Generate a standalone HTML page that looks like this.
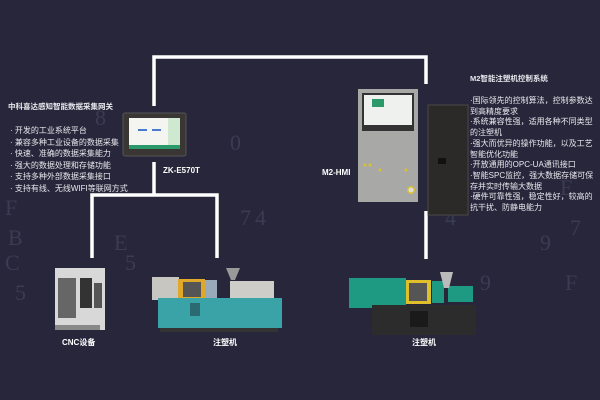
<!DOCTYPE html>
<html><head><meta charset="utf-8"><style>
body{margin:0;width:600px;height:400px;overflow:hidden;background:#28263a;font-family:"Liberation Sans","Noto Sans CJK SC",sans-serif;}
svg{position:absolute;left:0;top:0}
.t{position:absolute;color:#e8e8ee;font-size:8px;line-height:11.5px;white-space:nowrap}
.h{font-weight:bold;font-size:7.5px}
.l{position:absolute;color:#fff;font-size:8px;font-weight:bold}
</style></head><body>
<svg width="600" height="400">
<g fill="#3a3c52" font-family="Liberation Serif" font-size="22">
<text x="5" y="215">F</text><text x="8" y="245">B</text><text x="5" y="270">C</text><text x="15" y="300">5</text>
<text x="114" y="250">E</text><text x="125" y="270">5</text><text x="255" y="225">4</text><text x="240" y="225">7</text>
<text x="445" y="225">4</text><text x="480" y="290">9</text><text x="565" y="290">F</text><text x="570" y="235">7</text>
<text x="540" y="250">9</text><text x="560" y="195">E</text><text x="95" y="125">8</text><text x="230" y="150">0</text>
</g>
<g fill="none" stroke="#fff" stroke-width="3.5">
<polyline points="154,106 154,57 426,57 426,84"/>
<polyline points="154,162 154,195"/>
<polyline points="92,258 92,195 217,195 217,258"/>
<line x1="426" y1="211" x2="426" y2="259"/>
</g>
<!-- ZK panel -->
<rect x="123" y="113" width="63" height="43" rx="2" fill="#3a3633" stroke="#555" />
<rect x="129" y="118" width="51" height="31" fill="#f4f4f0"/>
<rect x="129" y="145" width="51" height="4" fill="#2a9a6a"/>
<rect x="168" y="118" width="12" height="27" fill="#cfe8d0"/>
<rect x="138" y="129" width="9" height="2" fill="#4a7ad0"/><rect x="152" y="129" width="9" height="2" fill="#4a7ad0"/>
<!-- M2 HMI -->
<rect x="358" y="89" width="60" height="113" fill="#a8a9a6"/>
<rect x="362" y="93" width="52" height="38" fill="#333"/>
<rect x="364" y="95" width="48" height="30" fill="#eef1ee"/>
<rect x="372" y="99" width="12" height="8" fill="#2a9a6a"/>
<g fill="#d8c030"><circle cx="365" cy="165" r="1.5"/><circle cx="370" cy="165" r="1.5"/><circle cx="380" cy="170" r="1.5"/><circle cx="406" cy="170" r="1.5"/><circle cx="411" cy="190" r="4"/></g>
<circle cx="411" cy="190" r="2.5" fill="#ddd"/>
<!-- controller -->
<rect x="428" y="105" width="40" height="110" fill="#2c2a28" stroke="#4a4844"/>
<rect x="438" y="158" width="8" height="6" fill="#111"/>
<!-- CNC -->
<rect x="55" y="268" width="50" height="62" fill="#d8d8d8"/>
<rect x="58" y="278" width="18" height="40" fill="#666"/>
<rect x="80" y="278" width="12" height="30" fill="#333"/>
<rect x="94" y="283" width="8" height="25" fill="#555"/>
<rect x="55" y="325" width="45" height="5" fill="#888"/>
<!-- middle injection -->
<rect x="152" y="277" width="27" height="23" fill="#c8c6c0"/>
<rect x="178" y="279" width="27" height="21" fill="#e0a82a"/>
<rect x="183" y="282" width="18" height="15" fill="#555"/>
<rect x="205" y="280" width="12" height="20" fill="#9ab"/>
<rect x="230" y="281" width="44" height="17" fill="#cfcdc8"/>
<polygon points="226,268 240,268 235,280 231,280" fill="#999"/>
<rect x="158" y="298" width="124" height="30" fill="#3aa3a8"/>
<rect x="190" y="303" width="10" height="13" fill="#2a6a70"/>
<rect x="160" y="328" width="118" height="4" fill="#333"/>
<!-- right injection -->
<rect x="349" y="278" width="57" height="30" fill="#1e9a82"/>
<rect x="406" y="280" width="25" height="24" fill="#e0c02a"/>
<rect x="409" y="283" width="18" height="18" fill="#555"/>
<rect x="432" y="281" width="12" height="22" fill="#1e9a82"/>
<rect x="448" y="286" width="25" height="16" fill="#1e9a82"/>
<polygon points="440,272 453,272 449,288 444,288" fill="#bbb"/>
<rect x="372" y="305" width="104" height="30" fill="#2c2c2c"/>
<rect x="410" y="311" width="18" height="16" fill="#1a1a1a"/>
</svg>
<div class="t h" style="left:8px;top:101px">中科喜达感知智能数据采集网关</div>
<div class="t" style="left:10px;top:125px">· 开发的工业系统平台<br>· 兼容多种工业设备的数据采集<br>· 快速、准确的数据采集能力<br>· 强大的数据处理和存储功能<br>· 支持多种外部数据采集接口<br>· 支持有线、无线WIFI等联网方式</div>
<div class="l" style="left:163px;top:166px">ZK-E570T</div>
<div class="l" style="left:322px;top:168px">M2-HMI</div>
<div class="t h" style="left:470px;top:73px">M2智能注塑机控制系统</div>
<div class="t" style="left:470px;top:96px;line-height:10.7px">·国际领先的控制算法，控制参数达<br>到高精度要求<br>·系统兼容性强，适用各种不同类型<br>的注塑机<br>·强大而优异的操作功能，以及工艺<br>智能优化功能<br>·开放通用的OPC-UA通讯接口<br>·智能SPC监控，强大数据存储可保<br>存并实时传输大数据<br>·硬件可靠性强，稳定性好，较高的<br>抗干扰、防静电能力</div>
<div class="l" style="left:62px;top:337px">CNC设备</div>
<div class="l" style="left:213px;top:337px">注塑机</div>
<div class="l" style="left:412px;top:337px">注塑机</div>
</body></html>
